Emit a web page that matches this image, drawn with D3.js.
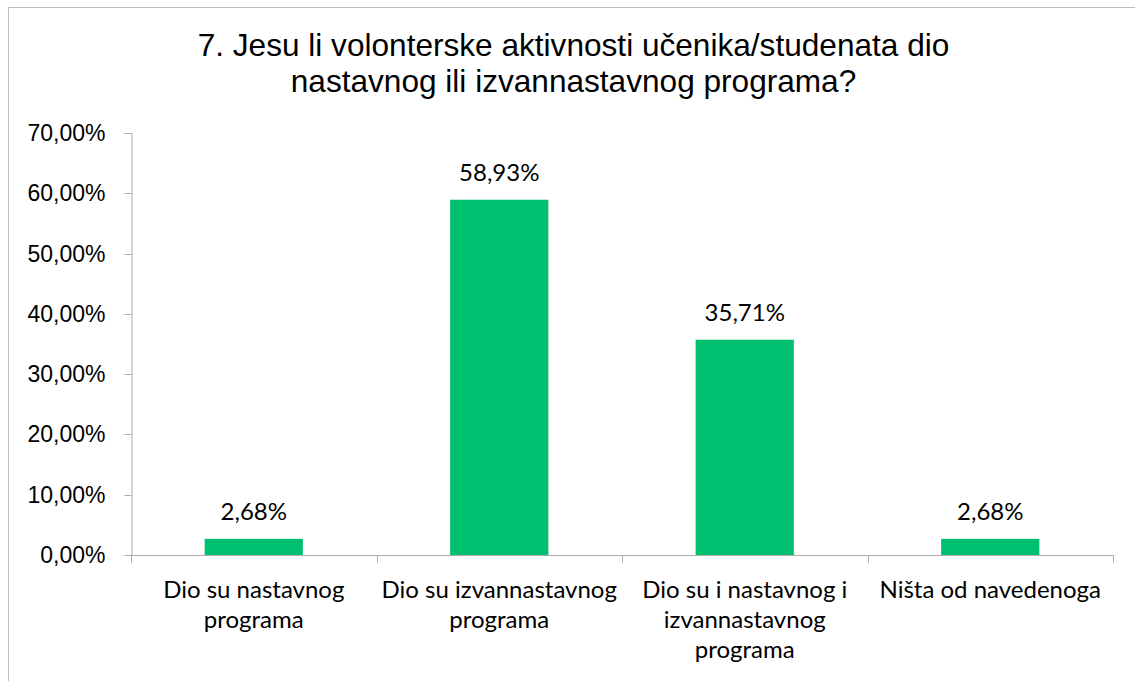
<!DOCTYPE html>
<html>
<head>
<meta charset="utf-8">
<script src="https://cdn.jsdelivr.net/npm/d3@7"></script>
<style>
  html, body { margin: 0; padding: 0; background: #fff; }
  svg { display: block; }
</style>
</head>
<body>
<svg id="chart" width="1135" height="681"></svg>
<script>
const titleLines = ["7. Jesu li volonterske aktivnosti učenika/studenata dio", "nastavnog ili izvannastavnog programa?"];
const categories = ["Dio su nastavnog programa", "Dio su izvannastavnog programa", "Dio su i nastavnog i izvannastavnog programa", "Ništa od navedenoga"];
const categoryLabelLines = [
  ["Dio su nastavnog", "programa"],
  ["Dio su izvannastavnog", "programa"],
  ["Dio su i nastavnog i", "izvannastavnog", "programa"],
  ["Ništa od navedenoga"]
];
const values = [0.0268, 0.5893, 0.3571, 0.0268];
const yTicks = [0, 0.1, 0.2, 0.3, 0.4, 0.5, 0.6, 0.7];

const fmtPct = v => (v * 100).toFixed(2).replace(".", ",") + "%";

const svg = d3.select("#chart");
const axisColor = "#ADADAD";
const barColor = "#00BF6F";

// outer chart border
svg.append("rect")
  .attr("x", 8.5).attr("y", 7.5)
  .attr("width", 1200).attr("height", 800)
  .attr("fill", "none").attr("stroke", "#BDBDBD").attr("stroke-width", 1);

// title
svg.append("g").selectAll("text").data(titleLines).join("text")
  .attr("x", 573.5)
  .attr("y", (d, i) => 56 + i * 36)
  .attr("text-anchor", "middle")
  .attr("font-family", "'Liberation Sans', Arial, sans-serif")
  .attr("font-size", 31.6)
  .attr("fill", "#000")
  .text(d => d);

const plot = { left: 131, right: 1113, top: 133, bottom: 555 };

const x = d3.scaleBand().domain(categories)
  .range([plot.left, plot.right]).paddingInner(0.6).paddingOuter(0.3);
const y = d3.scaleLinear().domain([0, 0.7]).range([plot.bottom, plot.top]);

// y axis
const yAxis = d3.axisLeft(y).tickValues(yTicks).tickFormat(fmtPct).tickSize(7).tickPadding(19);
const gy = svg.append("g").attr("transform", `translate(${plot.left + 0.5},0)`).call(yAxis);
gy.select(".domain").attr("stroke", axisColor);
gy.selectAll(".tick line").attr("stroke", axisColor);
gy.selectAll(".tick text")
  .attr("font-family", "'Liberation Sans', Arial, sans-serif")
  .attr("font-size", 23)
  .attr("fill", "#000");
gy.selectAll(".tick").attr("transform", d => `translate(0,${Math.round(y(d)) + 0.5})`);
gy.select(".domain").attr("d", `M-7,${y(0.7) + 0.5}H0.5V${y(0) + 0.5}`);

// bars
svg.append("g").selectAll("rect").data(categories).join("rect")
  .attr("x", d => x(d))
  .attr("y", (d, i) => y(values[i]))
  .attr("width", x.bandwidth())
  .attr("height", (d, i) => y(0) - y(values[i]))
  .attr("fill", barColor);

// x axis line + boundary ticks
const gx = svg.append("g");
gx.append("line")
  .attr("x1", plot.left).attr("x2", plot.right + 0.5)
  .attr("y1", y(0) + 0.5).attr("y2", y(0) + 0.5)
  .attr("stroke", axisColor);
const step = x.step();
const boundaries = categories.map(d => x(d) + x.bandwidth() / 2 - step / 2)
  .concat([x(categories[categories.length - 1]) + x.bandwidth() / 2 + step / 2]);
gx.selectAll("line.b").data(boundaries).join("line")
  .attr("class", "b")
  .attr("x1", d => Math.round(d) + 0.5).attr("x2", d => Math.round(d) + 0.5)
  .attr("y1", y(0)).attr("y2", y(0) + 7.5)
  .attr("stroke", axisColor);

// category labels
const labelFont = "Lato, 'Noto Sans', sans-serif";
const gl = svg.append("g");
categories.forEach((c, i) => {
  gl.append("g").selectAll("text").data(categoryLabelLines[i]).join("text")
    .attr("x", x(c) + x.bandwidth() / 2)
    .attr("y", (d, j) => 598 + j * 30)
    .attr("text-anchor", "middle")
    .attr("font-family", labelFont)
    .attr("font-size", 24)
    .attr("fill", "#000")
    .text(d => d);
});

// data labels
svg.append("g").selectAll("text").data(categories).join("text")
  .attr("x", d => x(d) + x.bandwidth() / 2)
  .attr("y", (d, i) => y(values[i]) - 19)
  .attr("text-anchor", "middle")
  .attr("font-family", labelFont)
  .attr("font-size", 24)
  .attr("fill", "#000")
  .text((d, i) => fmtPct(values[i]));
</script>
</body>
</html>
